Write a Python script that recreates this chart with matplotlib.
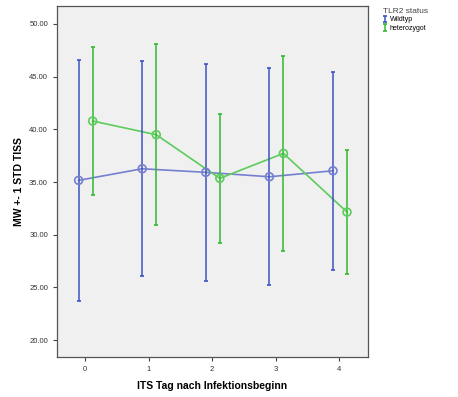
import matplotlib
matplotlib.use("Agg")
import matplotlib.pyplot as plt
import numpy as np

days = [0, 1, 2, 3, 4]
day_labels = ["0", "1", "2", "3", "4"]

wild_mean = [35.16, 36.26, 35.92, 35.50, 36.07]
wild_sd = [11.41, 10.22, 10.30, 10.28, 9.37]

het_mean = [40.79, 39.49, 35.35, 37.72, 32.15]
het_sd = [7.05, 8.60, 6.09, 9.25, 5.87]

BLUE = "#3e53c0"
BLUE_LINE = "#7480cf"
GREEN = "#2fba2f"
GREEN_LINE = "#5ccc5c"

plt.rcParams['font.family'] = ['Liberation Sans', 'DejaVu Sans']

fig = plt.figure(figsize=(4.58, 3.97), dpi=100)
ax = fig.add_axes([0.1245, 0.1008, 0.679, 0.884])
ax.set_facecolor("#f0f0f0")

x = np.array(days, dtype=float)
xb = x - 0.10
xg = x + 0.12

ax.plot(xb, wild_mean, color=BLUE_LINE, lw=1.2, zorder=2)
ax.plot(xg, het_mean, color=GREEN_LINE, lw=1.2, zorder=2)
ax.errorbar(xb, wild_mean, yerr=wild_sd, fmt='none', ecolor=BLUE,
            elinewidth=1.1, capsize=1.5, capthick=1.2, label="Wildtyp", zorder=3)
ax.errorbar(xg, het_mean, yerr=het_sd, fmt='none', ecolor=GREEN,
            elinewidth=1.1, capsize=1.5, capthick=1.2, label="heterozygot", zorder=3)
ax.scatter(xb, wild_mean, s=32, facecolors='none', edgecolors=BLUE_LINE,
           linewidths=1.2, zorder=4)
ax.scatter(xg, het_mean, s=32, facecolors='none', edgecolors=GREEN_LINE,
           linewidths=1.2, zorder=4)

ax.set_xlim(-0.44, 4.45)
ax.set_ylim(18.4, 51.7)
ax.set_xticks(days)
ax.set_xticklabels(day_labels)
ax.set_yticks([20, 25, 30, 35, 40, 45, 50])
ax.set_yticklabels([f"{v:.2f}" for v in [20, 25, 30, 35, 40, 45, 50]])
ax.tick_params(labelsize=5.5, length=3, color="#444444", labelcolor="#333333")

for s in ax.spines.values():
    s.set_color("#555555")
    s.set_linewidth(0.9)

ax.set_xlabel("ITS Tag nach Infektionsbeginn", fontsize=7.5, fontweight='bold',
              labelpad=6)
ax.set_ylabel("MW +- 1 STD TISS", fontsize=7.5, fontweight='bold', labelpad=4)

leg = fig.legend(loc='upper left', bbox_to_anchor=(0.825, 0.992), frameon=False,
                 title="TLR2 status", fontsize=5, title_fontsize=6,
                 handlelength=0.6, handletextpad=0.4, labelspacing=0.2,
                 borderpad=0.2)
leg._legend_box.align = "left"
leg.get_title().set_color("#444444")

fig.savefig("out.png", dpi=100)
